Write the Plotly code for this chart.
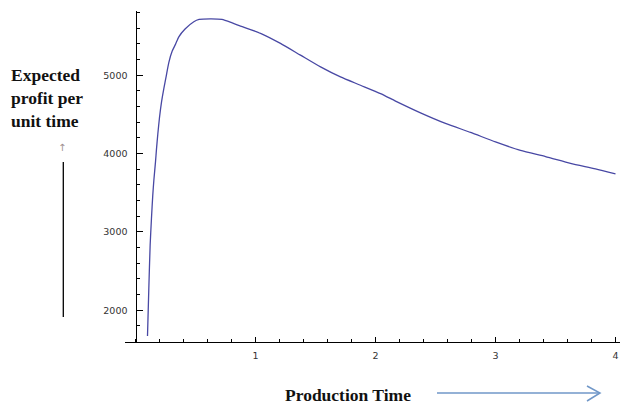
import plotly.graph_objects as go

# Data
production_time = [0.100, 0.111, 0.122, 0.133, 0.144, 0.153, 0.167, 0.175, 0.186, 0.200,
                   0.217, 0.236, 0.256, 0.278, 0.306, 0.333, 0.361, 0.413, 0.486, 0.530,
                   0.630, 0.720, 0.806, 0.875, 1.042, 1.208, 1.375, 1.542, 1.708, 1.875,
                   2.042, 2.167, 2.375, 2.583, 2.792, 3.000, 3.208, 3.417, 3.625, 3.833, 4.000]
expected_profit = [1670, 2277, 2830, 3171, 3469, 3660, 3900, 4060, 4250, 4460,
                   4660, 4830, 4990, 5165, 5308, 5394, 5490, 5590, 5683, 5712,
                   5720, 5712, 5668, 5628, 5535, 5406, 5256, 5106, 4978, 4872,
                   4765, 4670, 4520, 4385, 4270, 4148, 4040, 3962, 3876, 3804, 3740]

x_tick_vals = [1, 2, 3, 4]
x_tick_text = ["1", "2", "3", "4"]
y_tick_vals = [2000, 3000, 4000, 5000]
y_tick_text = ["2000", "3000", "4000", "5000"]

y_title = "Expected<br>profit per<br>unit time"
x_title = "Production Time"

W, H = 620, 408
PLOT_L, PLOT_R, PLOT_T, PLOT_B = 125, 620, 11, 342   # pixel box of the plot area
L, T = PLOT_L, PLOT_T
R, B = W - PLOT_R, H - PLOT_B
PW, PH = W - L - R, H - T - B
X_RANGE = [-0.0875, 4.0375]
Y_RANGE = [1594, 5820]


def px(xr):
    return (xr - PLOT_L) / PW


def py(yr):
    return (PLOT_B - yr) / PH


fig = go.Figure()
fig.add_trace(go.Scatter(
    x=production_time, y=expected_profit, mode="lines",
    line=dict(color="#4848a4", width=1.3, shape="spline", smoothing=0.6), hoverinfo="skip"))

tick_font = dict(family="DejaVu Sans", size=9.5, color="#333333")

fig.update_layout(
    width=W, height=H,
    margin=dict(l=L, r=R, t=T, b=B, pad=0),
    paper_bgcolor="white", plot_bgcolor="white",
    showlegend=False,
    xaxis=dict(
        range=X_RANGE, tickmode="array", tickvals=x_tick_vals, ticktext=x_tick_text,
        ticks="inside", ticklen=5, tickwidth=1, tickcolor="black",
        showline=True, linecolor="black", linewidth=1.2,
        showgrid=False, zeroline=False, tickfont=tick_font, ticklabelstandoff=4,
        ticklabeloverflow="allow",
        minor=dict(tick0=0, dtick=0.2, ticks="inside", ticklen=2.5, tickcolor="black", showgrid=False),
    ),
    yaxis=dict(
        range=Y_RANGE, anchor="free", position=(0 - X_RANGE[0]) / (X_RANGE[1] - X_RANGE[0]),
        tickmode="array", tickvals=y_tick_vals, ticktext=y_tick_text,
        ticks="inside", ticklen=6, tickwidth=1, tickcolor="black",
        showline=True, linecolor="black", linewidth=1.2,
        showgrid=False, zeroline=False, tickfont=tick_font, ticklabelstandoff=6,
        minor=dict(tick0=0, dtick=200, ticks="inside", ticklen=3, tickcolor="black", showgrid=False),
    ),
)

title_font = dict(family="Liberation Serif", size=17.5, color="#111111")

# Y axis title block
fig.add_annotation(xref="paper", yref="paper", x=px(9), y=py(63), xanchor="left", yanchor="top",
                   text="<b>" + y_title + "</b>", showarrow=False, align="left", font=title_font)
# Small up arrow glyph
fig.add_annotation(xref="paper", yref="paper", x=px(62), y=py(147), xanchor="center", yanchor="middle",
                   text="↑", showarrow=False, font=dict(family="DejaVu Sans", size=10, color="#a09090"))
# Vertical black line
fig.add_shape(type="line", xref="paper", yref="paper", x0=px(63.3), x1=px(63.3), y0=py(162), y1=py(317),
              line=dict(color="black", width=1.3))

# X axis title
fig.add_annotation(xref="paper", yref="paper", x=px(283), y=py(395), xanchor="left", yanchor="middle",
                   text="<b>" + x_title + "</b>", showarrow=False, font=title_font)
# Blue arrow
arrow_col = "#7097c8"
fig.add_shape(type="line", xref="paper", yref="paper", x0=px(437), x1=px(600), y0=py(393), y1=py(393),
              line=dict(color=arrow_col, width=1.5))
fig.add_shape(type="path", xref="paper", yref="paper",
              path="M {},{} L {},{} L {},{}".format(px(587), py(386), px(600), py(393), px(587), py(401)),
              line=dict(color=arrow_col, width=1.5))

fig.write_html("out.html", config={"displayModeBar": False},
               post_script="document.body.style.margin='0';document.body.style.overflow='hidden';")
